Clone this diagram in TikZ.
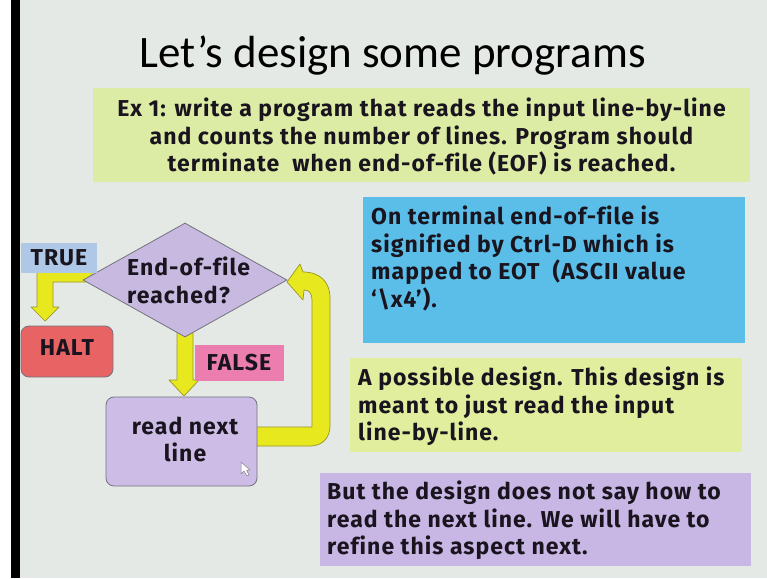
\documentclass[tikz,border=0pt]{standalone}
\usepackage{fontspec}
\setmainfont{Fira Sans}[LetterSpace=4.5, Ligatures=NoCommon]
\newfontfamily\titlefont{Carlito}
\usetikzlibrary{shapes.geometric}
\definecolor{bg}{RGB}{228,233,230}
\definecolor{greenA}{RGB}{220,236,165}
\definecolor{greenB}{RGB}{224,238,158}
\definecolor{cyanbox}{RGB}{90,190,232}
\definecolor{purplebox}{RGB}{200,182,228}
\definecolor{diafill}{RGB}{200,185,225}
\definecolor{readfill}{RGB}{205,188,230}
\definecolor{truefill}{RGB}{175,200,232}
\definecolor{haltfill}{RGB}{232,100,100}
\definecolor{falsefill}{RGB}{236,125,175}
\definecolor{yel}{RGB}{232,232,30}
\definecolor{yeledge}{RGB}{150,150,40}
\definecolor{edge}{RGB}{115,115,125}
\definecolor{ink}{RGB}{25,20,30}
\newcommand\fs{\rule{0pt}{18pt}}
\begin{document}
\begin{tikzpicture}[x=1pt,y=-1pt,
  panel/.style={rectangle, inner sep=0pt, draw=none},
  body/.style={inner sep=0pt, text=ink, font=\fontsize{23}{27.5}\selectfont\bfseries},
  label/.style={inner sep=0pt, text=ink, font=\fontsize{23}{27.5}\selectfont\bfseries},
  flowbox/.style={rectangle, rounded corners=8pt, draw=edge, line width=0.8pt, inner sep=0pt},
  blockarrow/.style={fill=yel, draw=yeledge, line width=0.7pt, line join=round}]
\useasboundingbox (0,0) rectangle (767,578);
\fill[white] (0,0) rectangle (767,578);
\fill[bg] (20,0) rectangle (767,578);
\fill[black] (11,0) rectangle (20,578);

% title
\node[inner sep=0pt, anchor=base, text=black, font=\titlefont\fontsize{45}{54}\selectfont] (title) at (392.5,67) {Let’s design some programs};

% exercise box
\node[panel, fill=greenA, minimum width=657pt, minimum height=94pt] (ex) at (421.5,135) {};
\node[body, align=center, anchor=north] (extext) at (421.5,98) {\fs Ex 1: write a program that reads the input line-by-line\\and counts the number of lines. Program should\\terminate\ \ when end-of-file (EOF) is reached.};

% right-hand notes
\node[panel, fill=cyanbox, minimum width=382pt, minimum height=146pt] (eot) at (554,270) {};
\node[body, align=left, anchor=north west] (eottext) at (371,206) {\fs On terminal end-of-file is\\signified by Ctrl-D which is\\mapped to EOT\ \ (ASCII value\\‘\textbackslash x4’).};

\node[panel, fill=greenB, minimum width=392pt, minimum height=94pt] (poss) at (546,405) {};
\node[body, align=left, anchor=north west] (posstext) at (358,367) {\fs A possible design. This design is\\meant to just read the input\\line-by-line.};

\node[panel, fill=purplebox, minimum width=431pt, minimum height=93pt] (but) at (535.5,519.5) {};
\node[body, align=left, anchor=north west] (buttext) at (327,481) {\fs But the design does not say how to\\read the next line. We will have to\\refine this aspect next.};

% block arrows (drawn under the shapes)
\draw[blockarrow] (92,266) -- (37,266) -- (37,307) -- (31,307) -- (45,321) -- (59,307) -- (53,307) -- (53,282) -- (92,282) -- cycle;
\draw[blockarrow] (177,330) -- (177,380) -- (169,380) -- (184,396) -- (199,380) -- (193,380) -- (193,330) -- cycle;
\draw[blockarrow] (250,427) -- (312,427) -- (312,300) .. controls (312,293) and (309,290) .. (304,290) -- (303,300) -- (287,282) -- (300,264) -- (303,272) .. controls (320,272) and (330,282) .. (330,298) -- (330,426) .. controls (330,438) and (322,446) .. (310,446) -- (250,446) -- cycle;

% flowchart shapes
\node[diamond, draw=edge, fill=diafill, line width=0.8pt, inner sep=0pt, minimum width=204pt, minimum height=114pt] (dia) at (185,280) {};
\node[label, align=left, anchor=north west] (diatext) at (127,257) {\fs End-of-file\\reached?};

\node[panel, fill=truefill, minimum width=76pt, minimum height=30pt] (true) at (59,258) {};
\node[label] (truetext) at (59,258) {TRUE};

\node[flowbox, fill=haltfill, minimum width=92pt, minimum height=51pt] (halt) at (67,351.5) {};
\node[label] (halttext) at (67,348) {HALT};

\node[panel, fill=falsefill, minimum width=89pt, minimum height=36pt] (false) at (239,363) {};
\node[label] (falsetext) at (239,363) {FALSE};

\node[flowbox, fill=readfill, minimum width=151pt, minimum height=89pt] (read) at (181.5,441.5) {};
\node[label, align=center, anchor=north] (readtext) at (185,416) {\fs read next\\line};

% mouse pointer
\draw[fill=white, draw=gray, line width=0.5pt, line join=round] (241,462) -- (241,474) -- (244,471) -- (247,476) -- (249,475) -- (246.5,470) -- (250,470) -- cycle;
\end{tikzpicture}
\end{document}
